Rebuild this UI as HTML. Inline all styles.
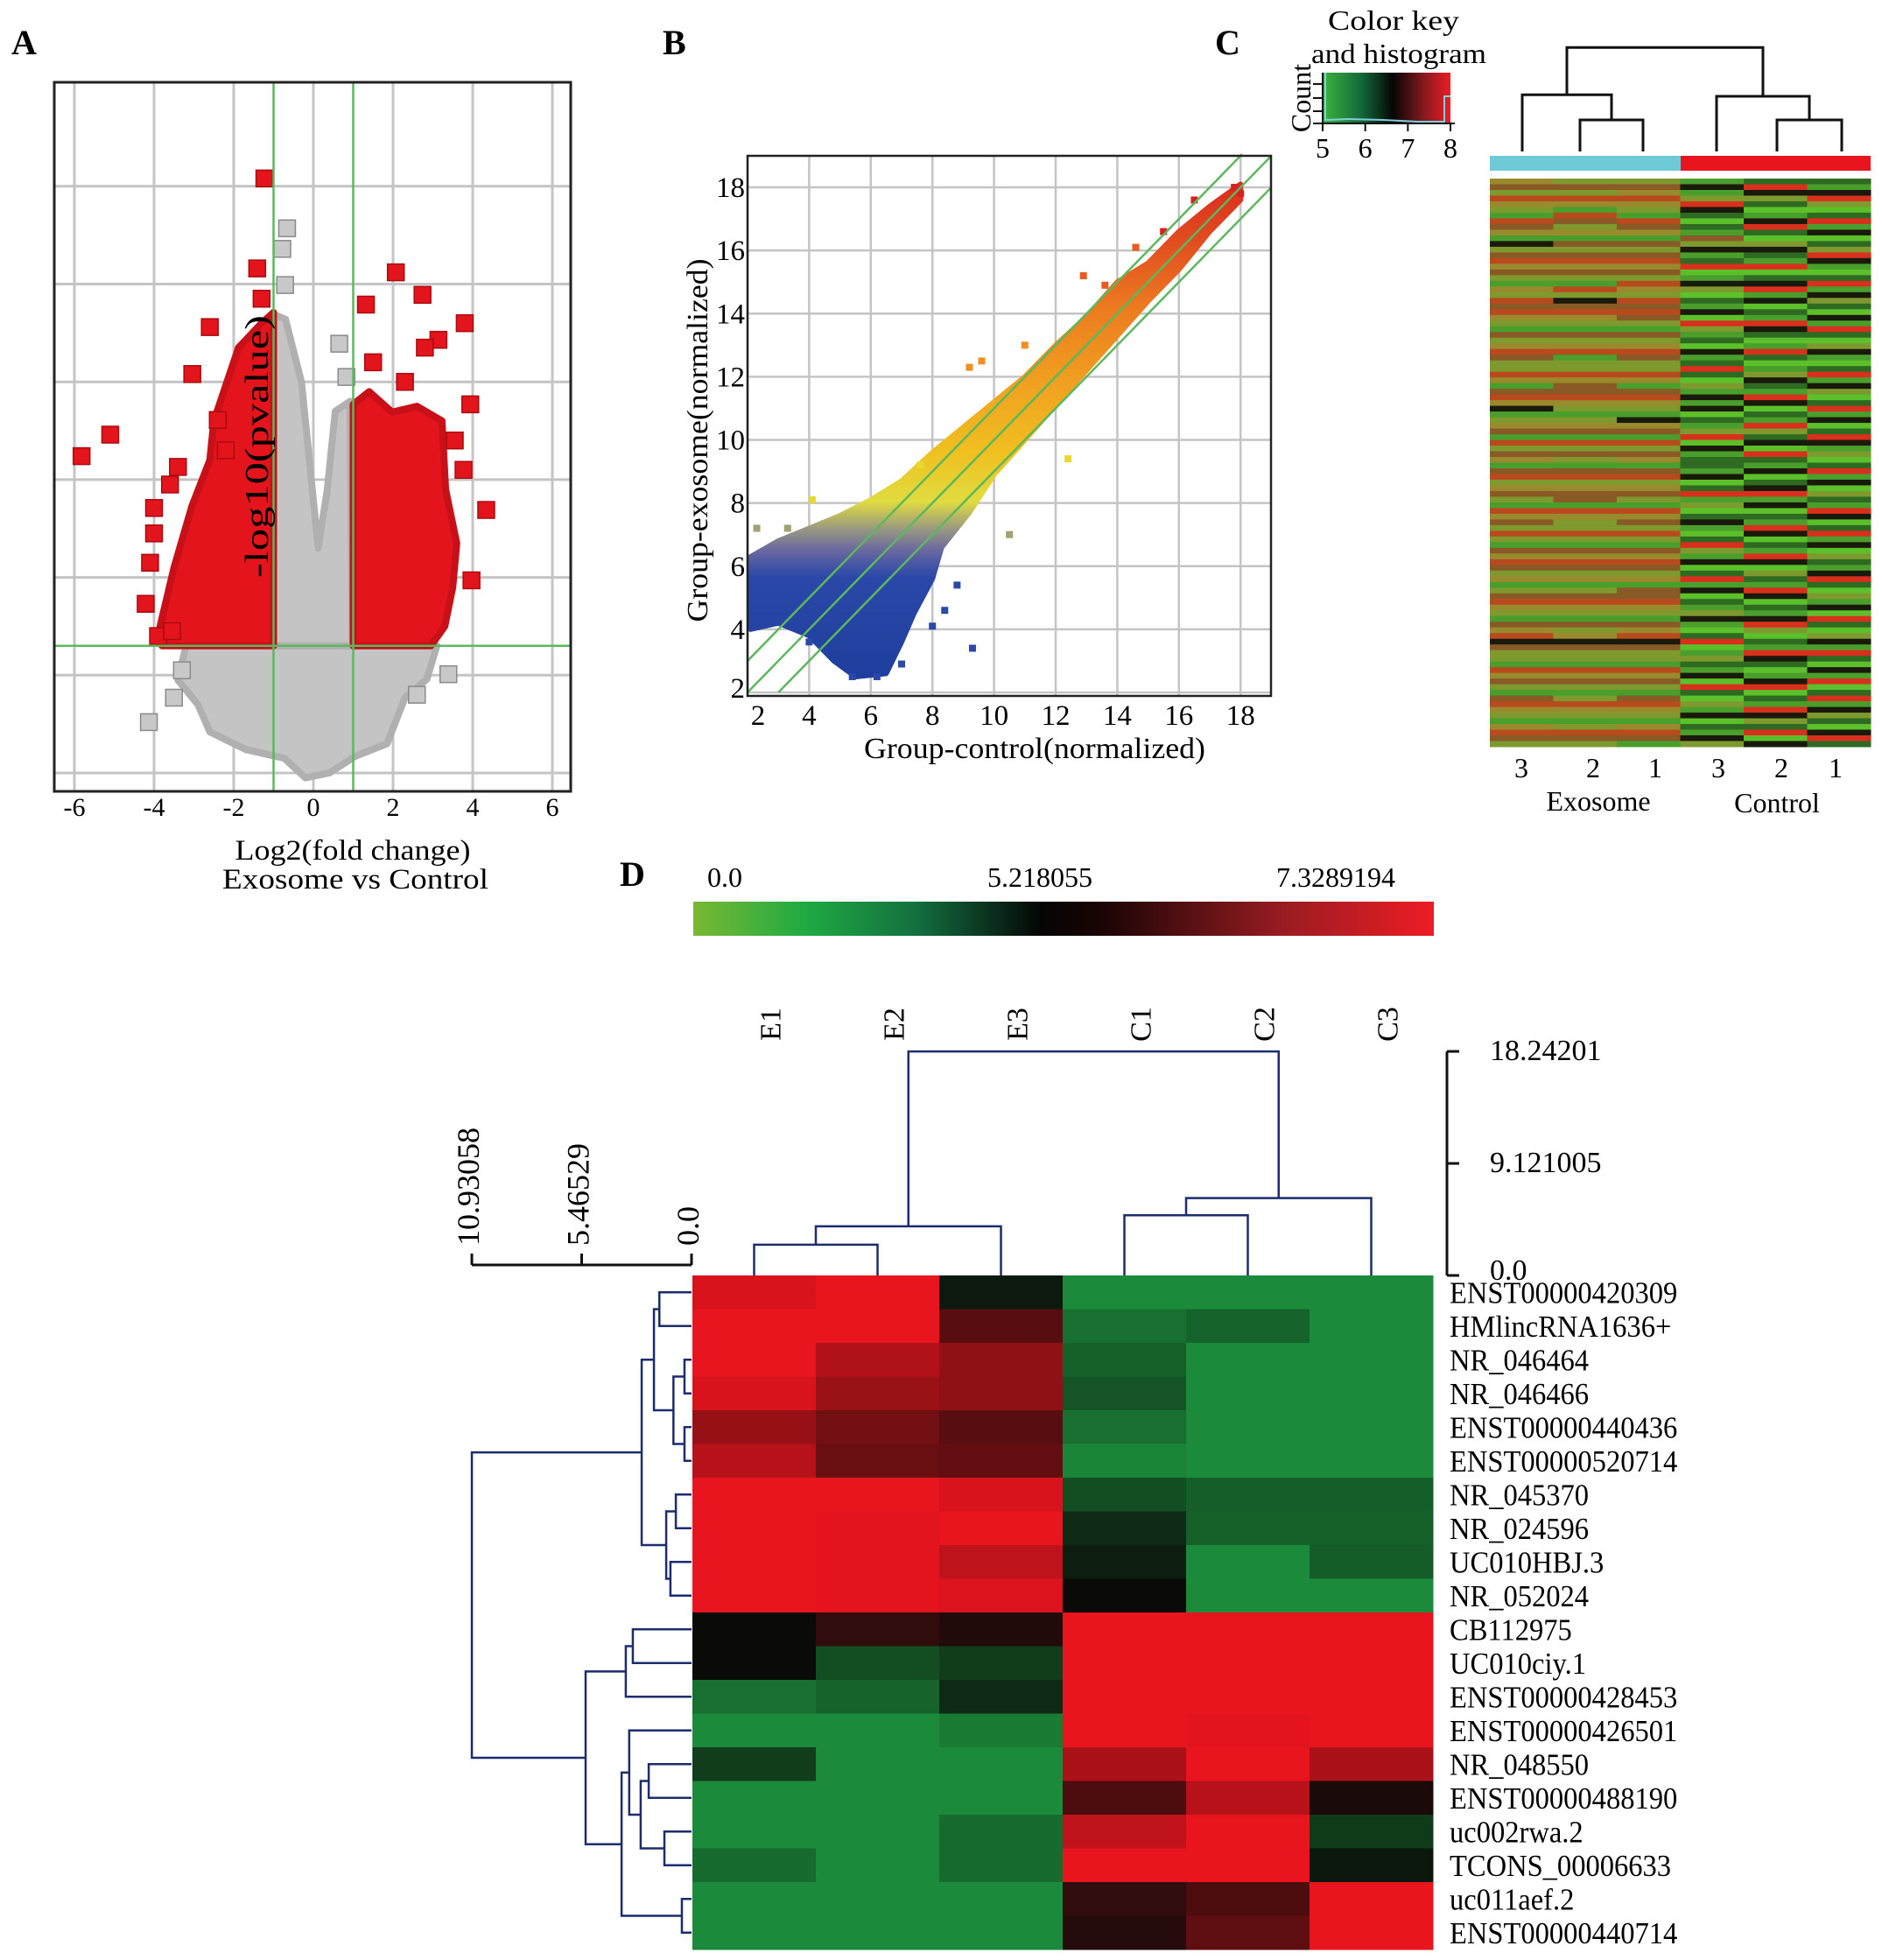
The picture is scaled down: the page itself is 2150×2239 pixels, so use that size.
<!DOCTYPE html>
<html><head><meta charset="utf-8"><title>Exosome vs Control figure</title>
<style>
html,body{margin:0;padding:0;background:#fff;}
svg{display:block;font-family:"Liberation Serif","Times New Roman",serif;}
</style></head>
<body>
<svg id="fig" xmlns="http://www.w3.org/2000/svg" width="2150" height="2239" viewBox="0 0 2150 2239">
<defs>
<linearGradient id="gradB" gradientUnits="userSpaceOnUse" x1="0" y1="795" x2="0" y2="178">
<stop offset="0" stop-color="#1c3c9c"/><stop offset="0.22" stop-color="#2a48a8"/><stop offset="0.27" stop-color="#6a68a0"/><stop offset="0.31" stop-color="#9a9a80"/><stop offset="0.36" stop-color="#e0dc40"/><stop offset="0.45" stop-color="#f0c020"/><stop offset="0.58" stop-color="#f0a020"/><stop offset="0.72" stop-color="#ec7a20"/><stop offset="0.85" stop-color="#e04a20"/><stop offset="1" stop-color="#d81c20"/>
</linearGradient>
<linearGradient id="gradKeyC" x1="0" y1="0" x2="1" y2="0">
<stop offset="0" stop-color="#3cb43c"/><stop offset="0.3" stop-color="#136a3a"/><stop offset="0.55" stop-color="#050505"/><stop offset="0.8" stop-color="#8a1a20"/><stop offset="1" stop-color="#ee1c24"/>
</linearGradient>
<linearGradient id="gradKeyD" x1="0" y1="0" x2="1" y2="0">
<stop offset="0" stop-color="#7ab834"/><stop offset="0.15" stop-color="#1faa42"/><stop offset="0.3" stop-color="#137040"/><stop offset="0.47" stop-color="#050505"/><stop offset="0.55" stop-color="#1a0404"/><stop offset="0.8" stop-color="#9a1c22"/><stop offset="1" stop-color="#ee1c24"/>
</linearGradient>
</defs>

<text x="13" y="62" font-size="40" font-weight="bold">A</text>
<text x="757" y="62" font-size="40" font-weight="bold">B</text>
<text x="1388" y="62" font-size="40" font-weight="bold">C</text>
<text x="708" y="1012" font-size="40" font-weight="bold">D</text>

<g id="panelA"></g>
<g id="panelB"></g>
<g id="panelC"></g>
<g id="panelD"></g>
</svg>

<script>
// ====================== DATA ======================
const volcanoXTicks = [-6,-4,-2,0,2,4,6];
const volcanoYGrid = [0,1,2,3,4,5,6];
const volcanoThresholdY = 1.3;
const volcanoFoldCut = [-1,1];
const redOutliersX = [-1.23,-5.82,-5.1,-2.6,-3.04,-1.41,-1.3,2.07,1.32,2.74,3.8,3.94,4.34,3.97,-4.21,-4.1,-4.0,-3.4,-3.6,-2.4,3.77,3.14,2.8,-3.9,-3.55,-2.2,1.5,2.3,-4.0,3.55];
const redOutliersY = [6.08,3.24,3.46,4.56,4.08,5.16,4.85,5.12,4.79,4.89,4.6,3.77,2.69,1.97,1.73,2.15,2.71,3.13,2.95,3.61,3.1,4.43,4.35,1.4,1.45,3.3,4.2,4.0,2.45,3.4];
const grayOutliersX = [-0.66,-0.78,-0.71,0.65,0.83,3.39,-4.13,-3.5,-3.3,2.6];
const grayOutliersY = [5.57,5.36,4.99,4.39,4.05,1.01,0.52,0.77,1.05,0.8];
const redCloudLeftX = [-1.0,-1.3,-1.88,-2.5,-2.6,-3.05,-3.5,-3.85,-3.8,-1.0];
const redCloudLeftY = [4.71,4.6,4.35,3.6,3.2,2.73,2.1,1.5,1.3,1.3];
const redCloudRightX = [1.0,1.4,1.98,2.6,3.23,3.32,3.6,3.5,3.3,2.95,1.0];
const redCloudRightY = [3.77,3.9,3.69,3.75,3.6,2.9,2.35,1.9,1.5,1.3,1.3];
const grayVX = [-1.0,-0.7,-0.3,-0.1,0.12,0.35,0.55,0.92,0.98,-1.0];
const grayVY = [4.69,4.64,4.0,3.2,2.3,2.9,3.7,3.8,1.3,1.3];
const grayBaseX = [-3.2,-3.4,-2.9,-2.6,-1.7,-0.73,-0.2,0.4,1.05,1.85,2.3,2.85,3.1];
const grayBaseY = [1.3,0.95,0.7,0.42,0.24,0.15,-0.05,0.0,0.17,0.3,0.77,0.96,1.3];

const scatterTicks = [2,4,6,8,10,12,14,16,18];
const scatterOffsets = [1,0,-1];
const bandX = [2.1,2.1,3.0,4.0,5.0,6.0,7.0,8.0,9.0,10.0,11.0,12.0,13.0,14.0,15.0,16.0,17.0,18.0,18.0,17.0,16.0,15.0,14.0,13.0,12.0,11.0,10.0,9.2,8.3,8.0,7.4,7.0,6.5,5.5,4.8,4.0,3.0,2.1];
const bandY = [4.0,6.3,6.8,7.2,7.6,8.1,8.7,9.6,10.4,11.2,12.0,13.0,13.9,15.0,15.6,16.6,17.4,18.1,17.6,16.6,15.4,14.4,13.3,12.2,11.1,10.0,8.9,7.7,6.6,5.6,4.5,3.6,2.6,2.5,3.0,3.8,4.2,4.0];
const bOutX = [3.3,2.3,4.1,9.2,9.6,12.9,13.6,16.5,10.5,12.4,8.4,8.8,9.3,8.0,7.0,5.4,4.0,6.2,17.8,18.0,15.5,14.6,11.0,7.6];
const bOutY = [7.2,7.2,8.1,12.3,12.5,15.2,14.9,17.6,7.0,9.4,4.6,5.4,3.4,4.1,2.9,2.5,3.6,2.5,18.0,17.8,16.6,16.1,13.0,9.2];

const heatCColumns = [
"4537431754163574531437574315347533741574613451735415734531745373154753413574315476533174531574314753",
"3537417534153574531736574315347133745574313451735315734551743373154753413574315346533174531374313753",
"3547431754153574537437575315347533741574316451735415734531745373154753415574315476533174531574314751",
"1613862021536128016302160831206128203161602138061221602813026102831602816021361028013216082031602163",
"2863201682036218026816021862018201362186021832608216026816021860218603218602168302186201680218632806",
"2168302816023861028163206182036102816302816028613028160321860281603216820316082036182061802816320682"];
const heatCPalette = ["#5cc02a","#4a9e2c","#2e6a22","#7e9a2e","#9a8a2e","#8a5a26","#1a1a0c","#b84a1e","#d8301c"];
const heatCLabels = ["3","2","1","3","2","1"];
const heatCGroups = ["Exosome","Control"];
const dendCHeights = [1.0,1.8,1.0,1.75,3.3];

const genes = ["ENST00000420309","HMlincRNA1636+","NR_046464","NR_046466","ENST00000440436","ENST00000520714","NR_045370","NR_024596","UC010HBJ.3","NR_052024","CB112975","UC010ciy.1","ENST00000428453","ENST00000426501","NR_048550","ENST00000488190","uc002rwa.2","TCONS_00006633","uc011aef.2","ENST00000440714"];
const samples = ["E1","E2","E3","C1","C2","C3"];
const colE1 = [0.93,1,1,0.93,0.63,0.78,1,1,1,1,0,0,-0.8,-1,-0.4,-1,-1,-0.76,-1,-1];
const colE2 = [1,1,0.75,0.65,0.47,0.43,1,0.98,0.98,0.98,0.17,-0.53,-0.7,-1,-1,-1,-1,-1,-1,-1];
const colE3 = [-0.12,0.35,0.6,0.6,0.35,0.4,0.93,1,0.82,0.95,0.1,-0.4,-0.25,-0.88,-1,-1,-0.76,-0.76,-1,-1];
const colC1 = [-1,-0.8,-0.68,-0.58,-0.8,-0.95,-0.53,-0.25,-0.15,0,1,1,1,1,0.72,0.3,0.82,1,0.17,0.12];
const colC2 = [-1,-0.7,-1,-1,-1,-1,-0.66,-0.68,-1,-1,1,1,1,0.98,1,0.78,1,1,0.3,0.38];
const colC3 = [-1,-1,-1,-1,-1,-1,-0.66,-0.68,-0.64,-1,1,1,1,1,0.72,0.07,-0.38,-0.1,1,1];
const colorKeyDLabels = ["0.0","5.218055","7.3289194"];
const colorKeyDPos = [0.0,5.218055,7.3289194];
const rowMerges = [[0,1,1.6],[2,3,0.35],[4,5,0.35],[21,22,0.9],[20,23,1.87],[6,7,0.78],[8,9,1.05],[25,26,1.26],[24,27,2.48],
 [10,11,2.92],[29,12,3.27],[14,15,2.13],[16,17,1.35],[31,32,2.53],[13,33,3.1],[18,19,0.48],[34,35,3.48],[30,36,5.27],[28,37,10.93]];
const rowScaleTicks = [10.93058,5.46529,0.0];
const rowScaleLabels = ["10.93058","5.46529","0.0"];
const colMerges = [[0,1,2.5],[6,2,4.0],[3,4,4.9],[8,5,6.3],[7,9,18.24201]];
const colScaleTicks = [18.24201,9.121005,0.0];
const colScaleLabels = ["18.24201","9.121005","0.0"];

// ====================== HELPERS ======================
const NS = "http://www.w3.org/2000/svg";
function mk(parent, tag, attrs, text){
  const e = document.createElementNS(NS, tag);
  for (const k in attrs) e.setAttribute(k, attrs[k]);
  if (text !== undefined) e.textContent = text;
  parent.appendChild(e);
  return e;
}

// ====================== PANEL A ======================
(function(){
  const g = document.getElementById('panelA');
  const L=62, R=652, T=94, B=904;
  const xA = v => 358 + v*45.5;
  const yA = v => 883 - v*111.7;
  let e;
  volcanoXTicks.forEach(t=>{
    e = mk(g,'line',{x1:xA(t),x2:xA(t),y1:T,y2:B,stroke:'#c4c4c4','stroke-width':3});
    
    
    e = mk(g,'text',{x:xA(t),y:932,'font-size':30,'text-anchor':'middle'}, String(t));
    
    
  });
  volcanoYGrid.forEach(t=>{
    e = mk(g,'line',{x1:L,x2:R,y1:yA(t),y2:yA(t),stroke:'#c4c4c4','stroke-width':3});
    
    
  });
  function poly(xs,ys,fill,stroke,name){
    const pts = xs.map((x,i)=>xA(x)+','+yA(ys[i])).join(' ');
    const p = mk(g,'polygon',{points:pts,fill:fill,stroke:stroke,'stroke-width':8,'stroke-linejoin':'round'});
    
    
  }
  poly(grayBaseX,grayBaseY,'#c4c4c4','#b0b0b0','gray-cloud-base');
  poly(grayVX,grayVY,'#c4c4c4','#b0b0b0','gray-cloud-center');
  poly(redCloudLeftX,redCloudLeftY,'#e4141c','#c81018','red-cloud-left');
  poly(redCloudRightX,redCloudRightY,'#e4141c','#c81018','red-cloud-right');
  grayOutliersX.forEach((x,i)=>{
    const r = mk(g,'rect',{x:xA(x)-9.5,y:yA(grayOutliersY[i])-9.5,width:19,height:19,fill:'#c8c8c8',stroke:'#8a8a8a','stroke-width':1.5});
    
    
  });
  redOutliersX.forEach((x,i)=>{
    const r = mk(g,'rect',{x:xA(x)-9.5,y:yA(redOutliersY[i])-9.5,width:19,height:19,fill:'#e4141c',stroke:'#a80c10','stroke-width':1.5});
    
    
  });
  volcanoFoldCut.forEach(c=>{
    e = mk(g,'line',{x1:xA(c),x2:xA(c),y1:T,y2:B,stroke:'#5cb85c','stroke-width':2.5});
    
    
  });
  e = mk(g,'line',{x1:L,x2:R,y1:yA(volcanoThresholdY),y2:yA(volcanoThresholdY),stroke:'#5cb85c','stroke-width':2.5});
  
  
  e = mk(g,'rect',{x:L,y:T,width:R-L,height:B-T,fill:'none',stroke:'#222','stroke-width':3});
  
  
  e = mk(g,'text',{x:0,y:0,'font-size':38,'text-anchor':'middle',textLength:300,lengthAdjust:'spacingAndGlyphs',transform:'translate(306,510) rotate(-90)'},'-log10(pvalue)');
  
  
  e = mk(g,'text',{x:403,y:982,'font-size':33,'text-anchor':'middle',textLength:269,lengthAdjust:'spacingAndGlyphs'},'Log2(fold change)');
  
  
  e = mk(g,'text',{x:406,y:1015,'font-size':33,'text-anchor':'middle',textLength:304,lengthAdjust:'spacingAndGlyphs'},'Exosome vs  Control');
  
  
})();

// ====================== PANEL B ======================
(function(){
  const g = document.getElementById('panelB');
  const L=854, R=1452, T=178, B=795;
  const xB = v => 854 + (v-2)*35.2;
  const yB = v => 791 - (v-2)*36.06;
  let e;
  scatterTicks.forEach(t=>{
    e = mk(g,'line',{x1:xB(t),x2:xB(t),y1:T,y2:B,stroke:'#c4c4c4','stroke-width':2.5});
    
    
    e = mk(g,'line',{x1:L,x2:R,y1:yB(t),y2:yB(t),stroke:'#c4c4c4','stroke-width':2.5});
    
    
    e = mk(g,'text',{x:xB(t)+(t===2?12:0),y:828,'font-size':33,'text-anchor':'middle'},String(t));
    
    
    e = mk(g,'text',{x:851,y:yB(t)+(t===2?6:11),'font-size':33,'text-anchor':'end'},String(t));
    
    
  });
  const pts = bandX.map((x,i)=>xB(x)+','+yB(bandY[i])).join(' ');
  e = mk(g,'polygon',{points:pts,fill:'url(#gradB)',stroke:'url(#gradB)','stroke-width':6,'stroke-linejoin':'round'});
  
  
  bOutX.forEach((x,i)=>{
    const y = bOutY[i];
    const col = y<6?'#2a48a8':(y<7.5?'#a0a070':(y<9.5?'#e8d830':(y<14?'#f09020':(y<16.5?'#e85a20':'#d82020'))));
    const r = mk(g,'rect',{x:xB(x)-4,y:yB(y)-4,width:8,height:8,fill:col});
    
    
  });
  scatterOffsets.forEach(o=>{
    const x0 = Math.max(2, 2-o), x1 = Math.min(19, 19.05-o);
    e = mk(g,'line',{x1:xB(x0),y1:yB(x0+o),x2:xB(x1),y2:yB(x1+o),stroke:'#5cb85c','stroke-width':2.5});
    
    
  });
  e = mk(g,'rect',{x:L,y:T,width:R-L,height:B-T,fill:'none',stroke:'#222','stroke-width':2.5});
  
  
  e = mk(g,'text',{x:1182,y:866,'font-size':34,'text-anchor':'middle',textLength:390,lengthAdjust:'spacingAndGlyphs'},'Group-control(normalized)');
  
  
  e = mk(g,'text',{x:0,y:0,'font-size':34,'text-anchor':'middle',textLength:415,lengthAdjust:'spacingAndGlyphs',transform:'translate(808,503) rotate(-90)'},'Group-exosome(normalized)');
  
  
})();

// ====================== PANEL C ======================
(function(){
  const g = document.getElementById('panelC');
  let e;
  e = mk(g,'text',{x:1592,y:34,'font-size':32,'text-anchor':'middle',textLength:150,lengthAdjust:'spacingAndGlyphs'},'Color key');
  
  
  e = mk(g,'text',{x:1598,y:72,'font-size':32,'text-anchor':'middle',textLength:200,lengthAdjust:'spacingAndGlyphs'},'and histogram');
  
  
  e = mk(g,'rect',{x:1511,y:83,width:146,height:58,fill:'url(#gradKeyC)'});
  
  
  e = mk(g,'polyline',{points:'1514,83 1514,137 1540,136 1580,137 1620,139 1650,139 1650,110 1657,110',fill:'none',stroke:'#7fd0dc','stroke-width':2});
  
  
  e = mk(g,'line',{x1:1500,x2:1662,y1:141,y2:141,stroke:'#111','stroke-width':2});
  
  
  e = mk(g,'line',{x1:1511,x2:1511,y1:83,y2:150,stroke:'#111','stroke-width':2});
  
  
  [96,112,127].forEach(y=>{
    e = mk(g,'line',{x1:1500,x2:1511,y1:y,y2:y,stroke:'#111','stroke-width':2});
    
    
  });
  ["5","6","7","8"].forEach((t,i)=>{
    const x = 1511 + i*146/3;
    e = mk(g,'line',{x1:x,x2:x,y1:141,y2:150,stroke:'#111','stroke-width':2});
    
    
    e = mk(g,'text',{x:x,y:180,'font-size':32,'text-anchor':'middle'},t);
    
    
  });
  e = mk(g,'text',{x:0,y:0,'font-size':32,'text-anchor':'middle',transform:'translate(1497,112) rotate(-90)'},'Count');
  
  

  e = mk(g,'rect',{x:1702,y:178,width:218,height:17,fill:'#6ecad6'});
  
  
  e = mk(g,'rect',{x:1920,y:178,width:217,height:17,fill:'#e8141e'});
  
  

  const HL=1702, HR=2137, HT=204, HB=853;
  const cw = (HR-HL)/heatCColumns.length;
  heatCColumns.forEach((str,ci)=>{
    const rh = (HB-HT)/str.length;
    for (let r=0;r<str.length;r++){
      const c = mk(g,'rect',{x:HL+ci*cw,y:HT+r*rh,width:cw+0.5,height:rh+0.5,fill:heatCPalette[+str[r]]});
      
      
    }
    e = mk(g,'text',{x:[1738,1820,1891,1963,2035,2097][ci],y:888,'font-size':32,'text-anchor':'middle'},heatCLabels[ci]);
    
    
  });
  e = mk(g,'text',{x:1826,y:926,'font-size':32,'text-anchor':'middle'},heatCGroups[0]);
  
  
  e = mk(g,'text',{x:2030,y:928,'font-size':32,'text-anchor':'middle'},heatCGroups[1]);
  
  

  const leafX = [1739,1805,1877,1961,2030,2104];
  const base = 173, unit = 36;
  const yH = h => base - h*unit;
  const path = [];
  function link(xa,ya,xb,yb,h){ const y=yH(h); path.push(`M${xa},${ya}V${y}H${xb}V${yb}`); }
  const hS1 = dendCHeights[0], hE = dendCHeights[1], hS2 = dendCHeights[2], hCt = dendCHeights[3], hRoot = dendCHeights[4];
  link(leafX[1],base,leafX[2],base,hS1);
  const m1=(leafX[1]+leafX[2])/2;
  link(leafX[0],base,m1,yH(hS1),hE);
  link(leafX[4],base,leafX[5],base,hS2);
  const m2=(leafX[4]+leafX[5])/2;
  link(leafX[3],base,m2,yH(hS2),hCt);
  link((leafX[0]+m1)/2,yH(hE),(leafX[3]+m2)/2,yH(hCt),hRoot);
  e = mk(g,'path',{d:path.join(''),fill:'none',stroke:'#111','stroke-width':3});
  
  
})();

// ====================== PANEL D ======================
(function(){
  const g = document.getElementById('panelD');
  let e;
  e = mk(g,'rect',{x:792,y:1030,width:846,height:39,fill:'url(#gradKeyD)'});
  
  
  const keyX = v => v===0 ? 828 : (v<6 ? 1188 : 1526);
  colorKeyDLabels.forEach((t,i)=>{
    e = mk(g,'text',{x:keyX(colorKeyDPos[i]),y:1013,'font-size':32,'text-anchor':'middle'},t);
    
    
  });

  const cols = [colE1,colE2,colE3,colC1,colC2,colC3];
  const HL=791, HT=1457, cw=141, rh=38.5;
  function color(v){
    const k=[10,10,8], gr=[27,138,58], rd=[232,20,30];
    const t=Math.min(1,Math.abs(v)); const tgt = v<0?gr:rd;
    const c=k.map((a,i)=>Math.round(a+(tgt[i]-a)*t));
    return `rgb(${c[0]},${c[1]},${c[2]})`;
  }
  cols.forEach((col,ci)=>{
    col.forEach((v,ri)=>{
      const c = mk(g,'rect',{x:HL+ci*cw,y:HT+ri*rh,width:cw+0.5,height:rh+0.5,fill:color(v)});
      
      
    });
    e = mk(g,'text',{x:0,y:0,'font-size':34,'text-anchor':'middle',transform:`translate(${HL+ci*cw+cw/2+30},1170) rotate(-90)`},samples[ci]);
    
    
  });
  genes.forEach((gn,ri)=>{
    e = mk(g,'text',{x:0,y:0,'font-size':35,transform:`translate(1656,${HT+ri*rh+rh/2+12}) scale(0.93,1)`},gn);
    
    
  });

  const rowPX = 22.96;
  const rx = h => 790 - h*rowPX;
  const nodeY = [], nodeX = [];
  for (let i=0;i<20;i++){ nodeY[i]=HT+i*rh+rh/2; nodeX[i]=790; }
  let d='';
  rowMerges.forEach((m,k)=>{
    const a=m[0], b=m[1], x=rx(m[2]);
    d += `M${nodeX[a]},${nodeY[a]}H${x}V${nodeY[b]}H${nodeX[b]}`;
    nodeX[20+k]=x; nodeY[20+k]=(nodeY[a]+nodeY[b])/2;
  });
  e = mk(g,'path',{d:d,fill:'none',stroke:'#1c2c6c','stroke-width':2.5});
  
  
  e = mk(g,'line',{x1:rx(rowScaleTicks[0]),x2:790,y1:1445,y2:1445,stroke:'#111','stroke-width':3});
  
  
  rowScaleTicks.forEach((t,i)=>{
    e = mk(g,'line',{x1:rx(t),x2:rx(t),y1:1445,y2:1432,stroke:'#111','stroke-width':3});
    
    
    e = mk(g,'text',{x:0,y:0,'font-size':36,'text-anchor':'start',transform:`translate(${rx(t)+8},1423) rotate(-90)`},rowScaleLabels[i]);
    
    
  });

  const cPX = 14.03;
  const cy = h => 1457 - h*cPX;
  const cX=[], cY=[];
  for (let i=0;i<6;i++){ cX[i]=HL+i*cw+cw/2; cY[i]=1457; }
  let cd='';
  colMerges.forEach((m,k)=>{
    const a=m[0], b=m[1], y=cy(m[2]);
    cd += `M${cX[a]},${cY[a]}V${y}H${cX[b]}V${cY[b]}`;
    cX[6+k]=(cX[a]+cX[b])/2; cY[6+k]=y;
  });
  e = mk(g,'path',{d:cd,fill:'none',stroke:'#1c2c6c','stroke-width':2.5});
  
  
  e = mk(g,'line',{x1:1653,x2:1653,y1:cy(colScaleTicks[0]),y2:1457,stroke:'#111','stroke-width':3});
  
  
  colScaleTicks.forEach((t,i)=>{
    e = mk(g,'line',{x1:1653,x2:1667,y1:cy(t),y2:cy(t),stroke:'#111','stroke-width':3});
    
    
    e = mk(g,'text',{x:1702,y:cy(t)+(i===2?5:10),'font-size':34},colScaleLabels[i]);
    
    
  });
})();
</script>
</body></html>
